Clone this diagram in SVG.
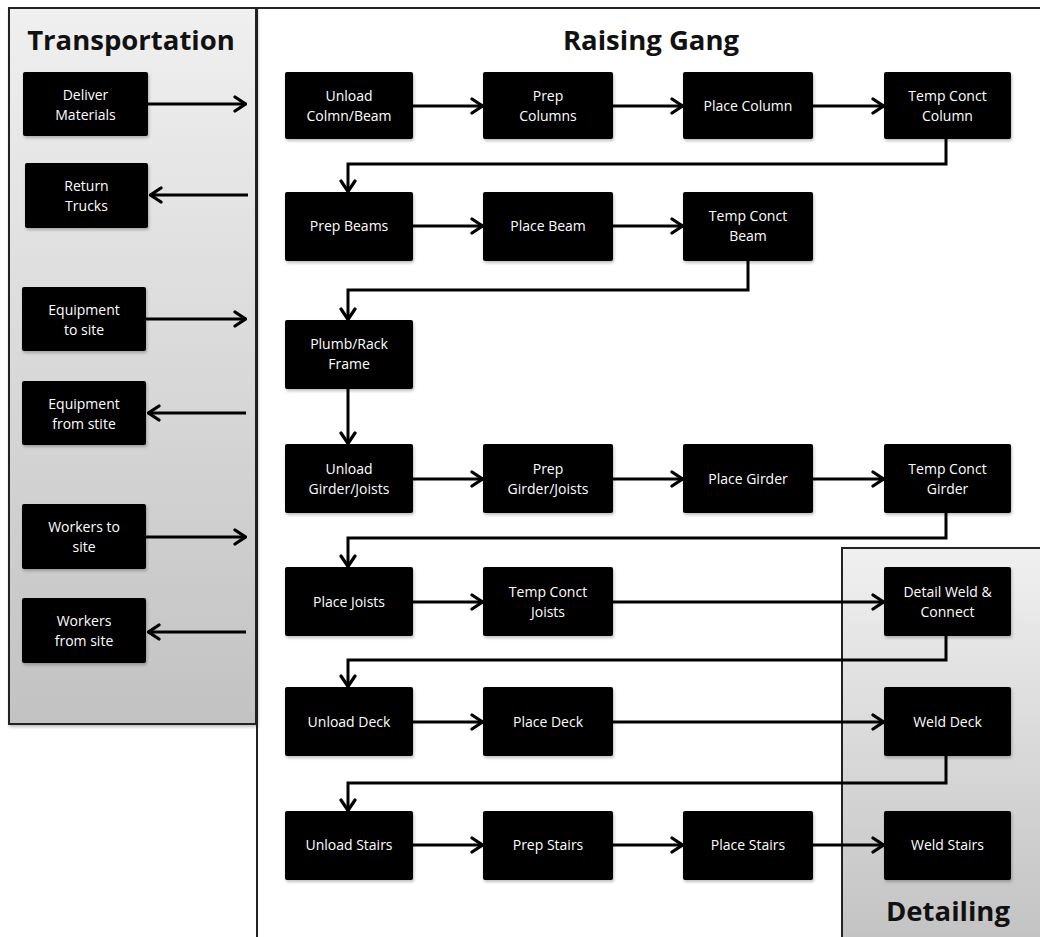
<svg xmlns="http://www.w3.org/2000/svg" width="1040" height="937" viewBox="0 0 1040 937">
<defs>
<linearGradient id="gray" x1="0" y1="0" x2="0" y2="1">
<stop offset="0" stop-color="#f0f0f0"/>
<stop offset="1" stop-color="#c2c2c2"/>
</linearGradient>
<marker id="arr" viewBox="0 0 14 18" refX="13" refY="9" markerWidth="14" markerHeight="18" markerUnits="userSpaceOnUse" orient="auto">
<path d="M2,2 L12.5,9 L2,16" fill="none" stroke="#000" stroke-width="3.2" stroke-linecap="round" stroke-linejoin="miter"/>
</marker>
<filter id="sh" x="-10%" y="-10%" width="130%" height="130%">
<feDropShadow dx="1" dy="2" stdDeviation="1.5" flood-color="#000" flood-opacity="0.25"/>
</filter>
</defs>
<style>
.panel{stroke:#222;stroke-width:2}
.node rect{fill:#000;filter:url(#sh)}
.node text{fill:#fff;font-family:"Open Sans","Liberation Sans",sans-serif;font-size:14px;text-anchor:middle}
.title{font-family:"Open Sans","Liberation Sans",sans-serif;font-weight:bold;font-size:27.5px;fill:#111;text-anchor:middle}
.conn path{fill:none;stroke:#000;stroke-width:3;marker-end:url(#arr)}
</style>

<g id="panel-raising">
<rect x="257" y="8" width="790" height="940" fill="#fff" class="panel"/>
<text class="title" x="651" y="50">Raising Gang</text>
</g>
<g id="panel-transportation">
<rect x="9" y="8" width="247" height="716" fill="url(#gray)" class="panel" filter="url(#sh)"/>
<text class="title" x="131" y="50">Transportation</text>
</g>
<g id="panel-detailing">
<rect x="842" y="548" width="210" height="400" fill="url(#gray)" class="panel"/>
<text class="title" x="948" y="921">Detailing</text>
</g>

<g id="connectors" class="conn">
<path d="M148,104 H246"/>
<path d="M248,195 H150"/>
<path d="M146,319 H246"/>
<path d="M246,413 H148"/>
<path d="M146,537 H246"/>
<path d="M246,632 H148"/>

<path d="M413,106 H483"/>
<path d="M613,106 H683"/>
<path d="M813,106 H884"/>
<path d="M946,139 V164 H348 V192"/>
<path d="M413,226 H483"/>
<path d="M613,226 H683"/>
<path d="M748,261 V290 H348 V320"/>
<path d="M348,389 V444"/>
<path d="M413,479 H483"/>
<path d="M613,479 H683"/>
<path d="M813,479 H884"/>
<path d="M946,513 V538 H348 V567"/>
<path d="M413,602 H483"/>
<path d="M613,602 H884"/>
<path d="M946,636 V660 H348 V687"/>
<path d="M413,722 H483"/>
<path d="M613,722 H884"/>
<path d="M946,756 V783 H348 V811"/>
<path d="M413,845 H483"/>
<path d="M613,845 H683"/>
<path d="M813,845 H884"/>
</g>

<g id="n-deliver" class="node"><rect x="23" y="72" width="125" height="64" rx="2"/><text x="85.5" y="100">Deliver</text><text x="85.5" y="120">Materials</text></g>
<g id="n-return" class="node"><rect x="25" y="163" width="123" height="65" rx="2"/><text x="86.5" y="191">Return</text><text x="86.5" y="211">Trucks</text></g>
<g id="n-equip-to" class="node"><rect x="22" y="287" width="124" height="64" rx="2"/><text x="84" y="315">Equipment</text><text x="84" y="335">to site</text></g>
<g id="n-equip-from" class="node"><rect x="22" y="381" width="124" height="64" rx="2"/><text x="84" y="409">Equipment</text><text x="84" y="429">from stite</text></g>
<g id="n-workers-to" class="node"><rect x="22" y="504" width="124" height="65" rx="2"/><text x="84" y="532">Workers to</text><text x="84" y="552">site</text></g>
<g id="n-workers-from" class="node"><rect x="22" y="598" width="124" height="65" rx="2"/><text x="84" y="626">Workers</text><text x="84" y="646">from site</text></g>

<g id="n-unload-colmn" class="node"><rect x="285" y="72" width="128" height="67" rx="2"/><text x="349" y="101">Unload</text><text x="349" y="121">Colmn/Beam</text></g>
<g id="n-prep-columns" class="node"><rect x="483" y="72" width="130" height="67" rx="2"/><text x="548" y="101">Prep</text><text x="548" y="121">Columns</text></g>
<g id="n-place-column" class="node"><rect x="683" y="72" width="130" height="67" rx="2"/><text x="748" y="111">Place Column</text></g>
<g id="n-temp-column" class="node"><rect x="884" y="72" width="127" height="67" rx="2"/><text x="947.5" y="101">Temp Conct</text><text x="947.5" y="121">Column</text></g>

<g id="n-prep-beams" class="node"><rect x="285" y="192" width="128" height="69" rx="2"/><text x="349" y="231">Prep Beams</text></g>
<g id="n-place-beam" class="node"><rect x="483" y="192" width="130" height="69" rx="2"/><text x="548" y="231">Place Beam</text></g>
<g id="n-temp-beam" class="node"><rect x="683" y="192" width="130" height="69" rx="2"/><text x="748" y="221">Temp Conct</text><text x="748" y="241">Beam</text></g>

<g id="n-plumb" class="node"><rect x="285" y="320" width="128" height="69" rx="2"/><text x="349" y="349">Plumb/Rack</text><text x="349" y="369">Frame</text></g>

<g id="n-unload-girder" class="node"><rect x="285" y="444" width="128" height="69" rx="2"/><text x="349" y="474">Unload</text><text x="349" y="494">Girder/Joists</text></g>
<g id="n-prep-girder" class="node"><rect x="483" y="444" width="130" height="69" rx="2"/><text x="548" y="474">Prep</text><text x="548" y="494">Girder/Joists</text></g>
<g id="n-place-girder" class="node"><rect x="683" y="444" width="130" height="69" rx="2"/><text x="748" y="484">Place Girder</text></g>
<g id="n-temp-girder" class="node"><rect x="884" y="444" width="127" height="69" rx="2"/><text x="947.5" y="474">Temp Conct</text><text x="947.5" y="494">Girder</text></g>

<g id="n-place-joists" class="node"><rect x="285" y="567" width="128" height="69" rx="2"/><text x="349" y="607">Place Joists</text></g>
<g id="n-temp-joists" class="node"><rect x="483" y="567" width="130" height="69" rx="2"/><text x="548" y="597">Temp Conct</text><text x="548" y="617">Joists</text></g>
<g id="n-detail-weld" class="node"><rect x="884" y="567" width="127" height="69" rx="2"/><text x="947.5" y="597">Detail Weld &amp;</text><text x="947.5" y="617">Connect</text></g>

<g id="n-unload-deck" class="node"><rect x="285" y="687" width="128" height="69" rx="2"/><text x="349" y="727">Unload Deck</text></g>
<g id="n-place-deck" class="node"><rect x="483" y="687" width="130" height="69" rx="2"/><text x="548" y="727">Place Deck</text></g>
<g id="n-weld-deck" class="node"><rect x="884" y="687" width="127" height="69" rx="2"/><text x="947.5" y="727">Weld Deck</text></g>

<g id="n-unload-stairs" class="node"><rect x="285" y="811" width="128" height="69" rx="2"/><text x="349" y="850">Unload Stairs</text></g>
<g id="n-prep-stairs" class="node"><rect x="483" y="811" width="130" height="69" rx="2"/><text x="548" y="850">Prep Stairs</text></g>
<g id="n-place-stairs" class="node"><rect x="683" y="811" width="130" height="69" rx="2"/><text x="748" y="850">Place Stairs</text></g>
<g id="n-weld-stairs" class="node"><rect x="884" y="811" width="127" height="69" rx="2"/><text x="947.5" y="850">Weld Stairs</text></g>
</svg>
